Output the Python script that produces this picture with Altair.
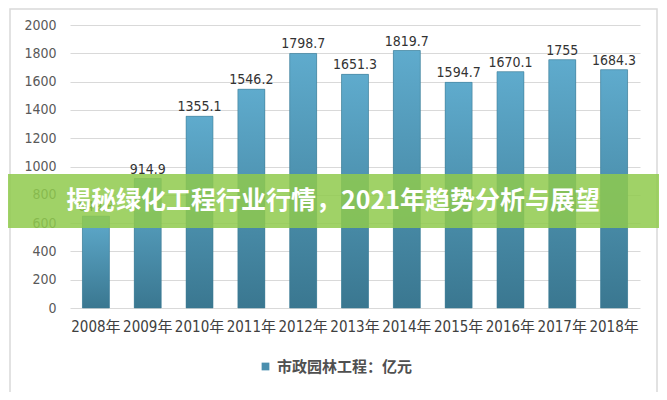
import altair as alt
import pandas as pd

years = ["2008年", "2009年", "2010年", "2011年", "2012年", "2013年",
         "2014年", "2015年", "2016年", "2017年", "2018年"]
values = [649.8, 914.9, 1355.1, 1546.2, 1798.7, 1651.3, 1819.7, 1594.7, 1670.1, 1755, 1684.3]
value_labels = ["649.8", "914.9", "1355.1", "1546.2", "1798.7", "1651.3",
                "1819.7", "1594.7", "1670.1", "1755", "1684.3"]
series_name = "市政园林工程：亿元"
banner_text = "揭秘绿化工程行业行情，2021年趋势分析与展望"
y_ticks = [0, 200, 400, 600, 800, 1000, 1200, 1400, 1600, 1800, 2000]

df = pd.DataFrame({"year": years, "value": values, "label": value_labels,
                   "series": [series_name] * len(years)})

FONT = "'Liberation Sans Narrow', 'DejaVu Sans Condensed', 'Liberation Sans', 'Noto Sans CJK SC', sans-serif"
CJK = "'Noto Sans CJK SC', sans-serif"

x = alt.X("year:N", sort=years, title=None,
          scale=alt.Scale(paddingInner=0.48, paddingOuter=0.24),
          axis=alt.Axis(labelAngle=0, ticks=False, domain=False, labelFontSize=15,
                        labelColor="#404040", labelPadding=11, labelFont=FONT))
y = alt.Y("value:Q", title=None, scale=alt.Scale(domain=[0, 2000]),
          axis=alt.Axis(values=y_ticks, format="d", ticks=False, domain=False,
                        gridColor="#d9d9d9", labelFontSize=14, labelColor="#595959",
                        labelPadding=14, labelFont=FONT))

base = alt.Chart(df)

frame = alt.Chart(alt.Data(values=[{"a": 1}])).mark_rect(
    filled=False, stroke="#d9d9d9", strokeWidth=1.5
).encode(x=alt.value(-60), x2=alt.value(587), y=alt.value(-16), y2=alt.value(368))

bars_legend = base.mark_bar().encode(
    x=x, y=y,
    color=alt.Color("series:N", title=None,
                    scale=alt.Scale(range=["#4a8fae"]),
                    legend=alt.Legend(orient="none", legendX=188, legendY=334,
                                      symbolType="square", symbolSize=60,
                                      labelFontSize=15, labelFont=CJK,
                                      labelFontWeight="bold",
                                      labelColor="#505050", symbolStrokeWidth=0))
)

grad = alt.Gradient(gradient="linear",
                    stops=[alt.GradientStop(color="#5fabcd", offset=0),
                           alt.GradientStop(color="#3a7790", offset=1)],
                    x1=0, x2=0, y1=0, y2=1)
bars = base.mark_bar(color=grad, stroke="#3b7891", strokeWidth=0.5).encode(x=x, y=y)

labels = base.mark_text(dy=-9, fontSize=14, font=FONT, color="#333333").encode(
    x=x, y=y, text="label:N")

banner = alt.Chart(alt.Data(values=[{"a": 1}])).mark_rect(
    fill="#8fca4c", opacity=0.85
).encode(x=alt.value(-70), x2=alt.value(600), y=alt.value(149), y2=alt.value(203))

banner_label = alt.Chart(alt.Data(values=[{"t": banner_text}])).mark_text(
    font=CJK, fontSize=25, fontWeight="bold", color="white", align="center",
    baseline="middle"
).encode(x=alt.value(263), y=alt.value(176), text="t:N")

chart = alt.layer(frame, bars_legend, bars, labels, banner, banner_label).properties(
    width=570, height=283,
    padding={"left": 62, "top": 17, "right": 19, "bottom": 84},
    autosize="none"
).configure_view(stroke=None)

chart.save("out.html", embed_options={"renderer": "svg", "actions": False})
